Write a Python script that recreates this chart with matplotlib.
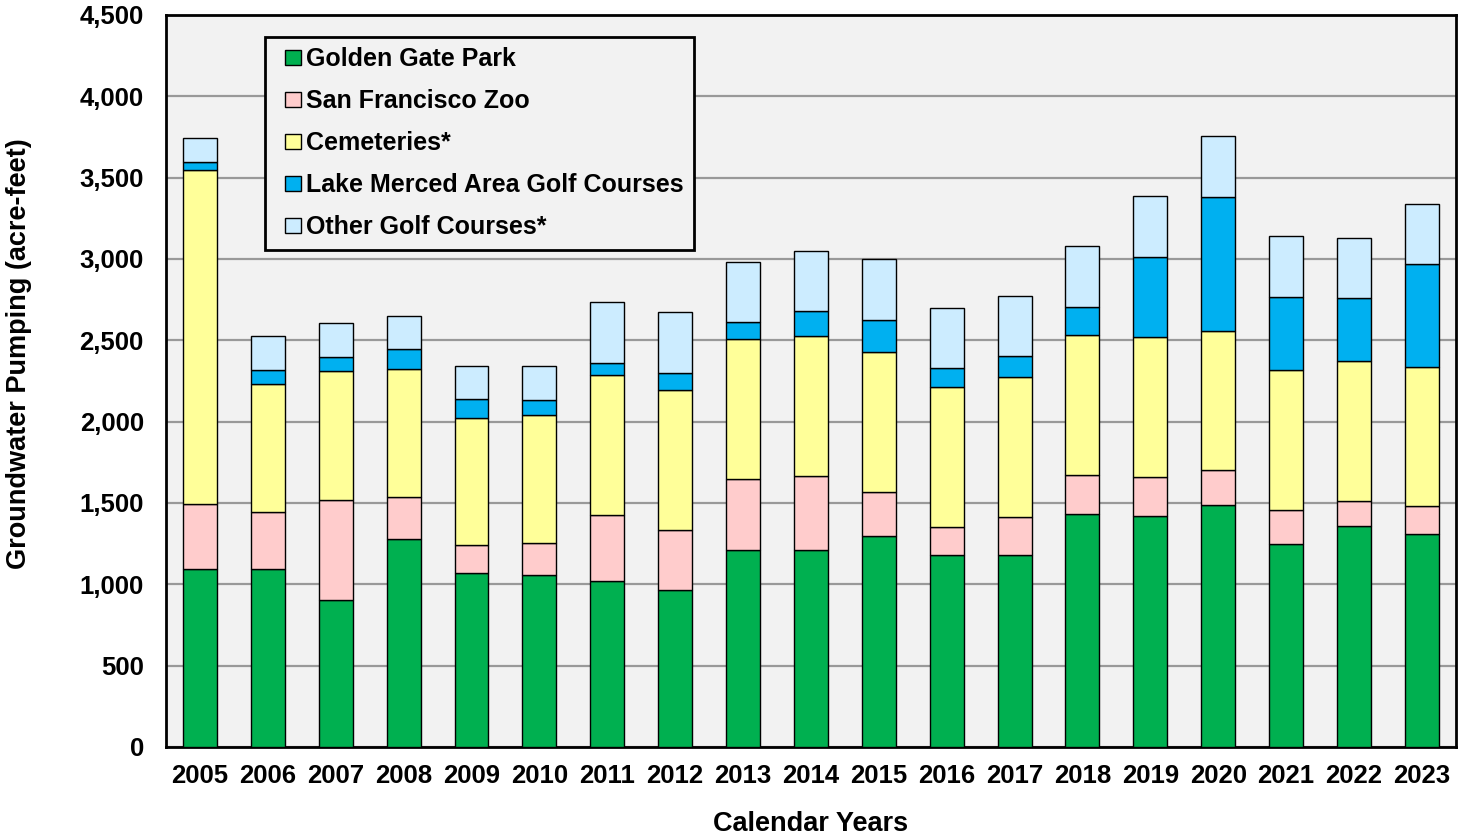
import numpy as np
import matplotlib
matplotlib.use("Agg")
import matplotlib.pyplot as plt
from matplotlib.patches import Rectangle, Patch
from matplotlib.legend_handler import HandlerPatch

plt.rcParams['font.family'] = ['Liberation Sans', 'DejaVu Sans']
plt.rcParams['font.weight'] = 'bold'

# Veriler (acre-feet)
years = ['2005', '2006', '2007', '2008', '2009', '2010', '2011', '2012', '2013', '2014',
         '2015', '2016', '2017', '2018', '2019', '2020', '2021', '2022', '2023']
golden_gate = [1095, 1095, 902, 1276, 1068, 1058, 1020, 965, 1209, 1211,
               1294, 1183, 1178, 1435, 1417, 1490, 1246, 1357, 1312]
zoo = [400, 350, 618, 259, 171, 193, 407, 369, 439, 457,
       271, 169, 237, 238, 241, 211, 211, 158, 168]
cemeteries = [2053, 789, 789, 789, 784, 789, 860, 862, 857, 857,
              860, 862, 859, 860, 860, 859, 860, 859, 857]
lake_merced = [48, 85, 91, 121, 113, 93, 75, 103, 106, 153,
               201, 113, 131, 171, 495, 820, 449, 385, 630]
other_golf = [148, 206, 206, 206, 208, 209, 372, 372, 369, 372,
              372, 372, 369, 374, 377, 374, 372, 369, 372]

series = [
    ('Golden Gate Park', golden_gate, '#00B050'),
    ('San Francisco Zoo', zoo, '#FFCCCC'),
    ('Cemeteries*', cemeteries, '#FFFF99'),
    ('Lake Merced Area Golf Courses', lake_merced, '#00B0F0'),
    ('Other Golf Courses*', other_golf, '#CCECFF'),
]

fig = plt.figure(figsize=(14.69, 8.39), dpi=100)
ax = fig.add_axes([0.113, 0.1097, 0.878, 0.8725])
ax.set_facecolor('#F2F2F2')

x = np.arange(len(years))
bottom = np.zeros(len(years))
for name, vals, color in series:
    ax.bar(x, vals, width=0.5, bottom=bottom, color=color, edgecolor='black',
           linewidth=1.0, label=name, zorder=3)
    bottom += np.array(vals)

ax.set_ylim(0, 4500)
ax.set_xlim(-0.5, len(years) - 0.5)
ax.set_yticks(np.arange(0, 4501, 500))
ax.set_yticklabels([f'{v:,}' for v in range(0, 4501, 500)])
ax.set_xticks(x)
ax.set_xticklabels(years)
ax.tick_params(axis='both', length=0, labelsize=18.5)
ax.tick_params(axis='y', pad=16)
ax.tick_params(axis='x', pad=12)
ax.yaxis.grid(True, color='#999999', linewidth=1.6, zorder=0)
ax.set_axisbelow(True)
for s in ax.spines.values():
    s.set_linewidth(2)
    s.set_color('black')

ax.set_ylabel('Groundwater Pumping (acre-feet)', fontsize=19.5, fontweight='bold')
ax.yaxis.set_label_coords(-0.104, 0.537)
ax.set_xlabel('Calendar Years', fontsize=19.5, fontweight='bold', labelpad=17)


# Lejant kutucugu: kare, tutamak alaninin sag ucunda
def square_patch(legend, orig_handle, xdescent, ydescent, width, height, fontsize):
    return Rectangle((-xdescent + width - height, -ydescent), height, height)


handles = [Patch(facecolor=c, edgecolor='black', linewidth=1.0) for _, _, c in series]
labels = [n for n, _, _ in series]
leg = ax.legend(handles, labels, loc='upper left', bbox_to_anchor=(0.077, 0.97), fontsize=18,
                frameon=True, fancybox=False, edgecolor='black', facecolor='#F2F2F2',
                framealpha=1, handlelength=1.0, handleheight=0.58, handletextpad=0.2,
                labelspacing=0.72, borderpad=0.42, borderaxespad=0,
                handler_map={Patch: HandlerPatch(patch_func=square_patch)})
leg.get_frame().set_linewidth(2)
leg.set_zorder(5)

fig.savefig('out.png', dpi=100)
